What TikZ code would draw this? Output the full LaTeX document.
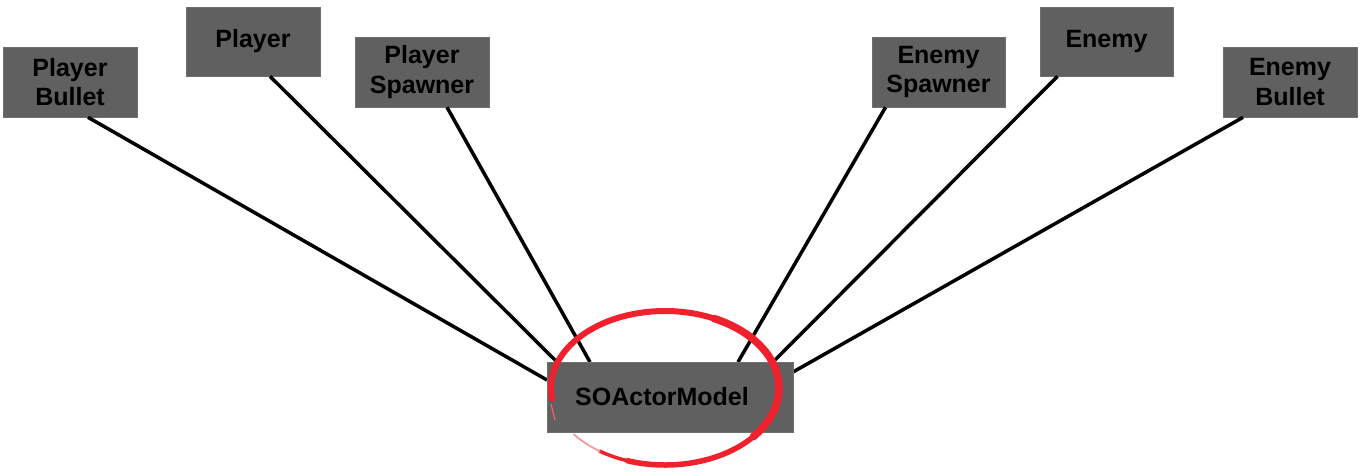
\documentclass[tikz,border=0pt]{standalone}
\usepackage{fontspec}
\setmainfont{Liberation Sans}
\begin{document}
\begin{tikzpicture}[x=1pt,y=-1pt,
  box/.style={fill=boxgray, draw=boxgray!90!white, line width=0.6pt, inner sep=0pt,
    minimum width=134pt, minimum height=70pt, align=center,
    font=\fontsize{25}{29.5}\selectfont\bfseries, text=black},
  link/.style={line width=3.5pt, black}]
\definecolor{boxgray}{HTML}{606060}
\definecolor{ringred}{HTML}{F0202C}
\useasboundingbox (0,0) rectangle (1360,475);
\node[box] (pb) at (70,82) {Player\\Bullet};
\node[box, minimum height=69pt] (p) at (253,41.5) {Player};
\node[box] (ps) at (422,72) {Player\\Spawner};
\node[box, minimum width=133pt] (es) at (938.5,72) {Enemy\\Spawner};
\node[box, minimum width=133pt, minimum height=69pt] (e) at (1106.5,41.5) {Enemy};
\node[box] (eb) at (1290,82) {Enemy\\Bullet};
\draw[link] ([xshift=18pt]pb.south) -- (547,380) coordinate (a1);
\draw[link] ([xshift=17pt]p.south) -- (557,362) coordinate (a2);
\draw[link] ([xshift=25pt]ps.south) -- (590,362) coordinate (a3);
\draw[link] ([xshift=-53pt]es.south) -- (738,362) coordinate (a4);
\draw[link] ([xshift=-49pt]e.south) -- (773,362) coordinate (a5);
\draw[link] ([xshift=-47pt]eb.south) -- (793,372) coordinate (a6);
\node[box, minimum width=246pt] (so) at (670,397) {SOActorModel\hspace{16pt}};
% red hand-drawn ring
\draw[ringred, line width=6pt, line cap=round] (665,388) ++(172:114 and 77) arc[start angle=172, end angle=300, x radius=114, y radius=77];
\draw[ringred, line width=7.5pt] (665,388) ++(295:114 and 77) arc[start angle=295, end angle=400, x radius=114, y radius=77];
\draw[ringred, line width=5.5pt] (665,388) ++(398:114 and 77) arc[start angle=398, end angle=470, x radius=114, y radius=77];
\draw[ringred, line width=3.5pt, line cap=round] (665,388) ++(468:114 and 77) arc[start angle=468, end angle=485, x radius=114, y radius=77];
\draw[ringred!45!white, line width=1.8pt, line cap=round] (665,388) ++(485:114 and 77) arc[start angle=485, end angle=503, x radius=114, y radius=77];
\draw[ringred!70!white, line width=1.2pt] (551,404) -- (555,420);
\end{tikzpicture}
\end{document}
